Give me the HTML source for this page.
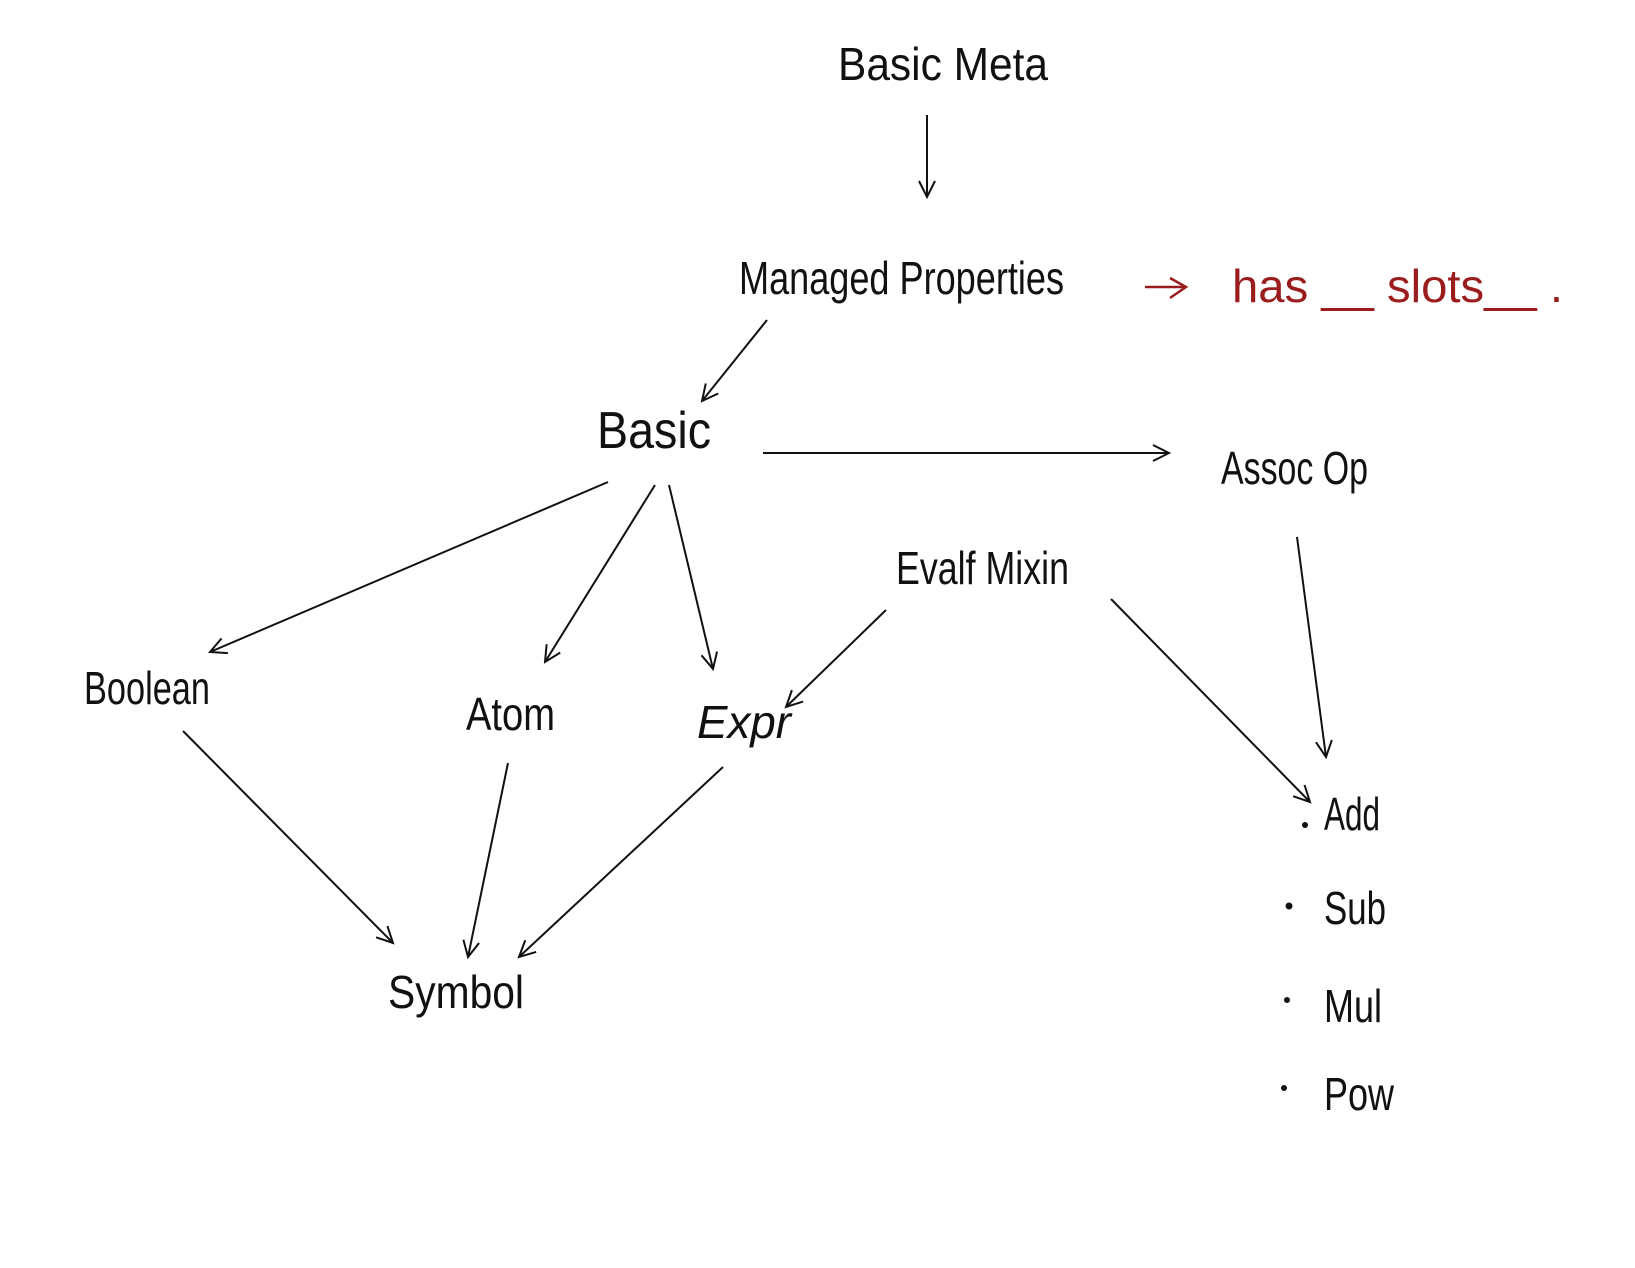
<!DOCTYPE html>
<html><head><meta charset="utf-8"><style>
html,body{margin:0;padding:0;background:#fff;}
svg{display:block;}
text{font-family:"Liberation Sans",sans-serif;fill:#111;}
</style></head><body>
<svg width="1635" height="1268" viewBox="0 0 1635 1268" xmlns="http://www.w3.org/2000/svg">
<defs>
<marker id="a" viewBox="0 0 20 20" refX="18" refY="10" markerWidth="20" markerHeight="20" markerUnits="userSpaceOnUse" orient="auto">
<path d="M2,2 L18,10 L2,18" fill="none" stroke="#111" stroke-width="2"/>
</marker>
</defs>
<g font-size="46" textLength="0">
<text x="838" y="80" textLength="210" lengthAdjust="spacingAndGlyphs">Basic Meta</text>
<text x="739" y="294" textLength="325" lengthAdjust="spacingAndGlyphs">Managed Properties</text>
<text x="597" y="448" font-size="52" textLength="114" lengthAdjust="spacingAndGlyphs">Basic</text>
<text x="1221" y="484" textLength="147" lengthAdjust="spacingAndGlyphs">Assoc Op</text>
<text x="896" y="584" textLength="173" lengthAdjust="spacingAndGlyphs">Evalf Mixin</text>
<text x="84" y="704" textLength="126" lengthAdjust="spacingAndGlyphs">Boolean</text>
<text x="466" y="730" textLength="89" lengthAdjust="spacingAndGlyphs">Atom</text>
<text x="697" y="738" font-style="italic" textLength="94" lengthAdjust="spacingAndGlyphs">Expr</text>
<text x="388" y="1008" textLength="136" lengthAdjust="spacingAndGlyphs">Symbol</text>
<text x="1324" y="830" textLength="56" lengthAdjust="spacingAndGlyphs">Add</text>
<text x="1324" y="924" textLength="62" lengthAdjust="spacingAndGlyphs">Sub</text>
<text x="1324" y="1022" textLength="58" lengthAdjust="spacingAndGlyphs">Mul</text>
<text x="1324" y="1110" textLength="70" lengthAdjust="spacingAndGlyphs">Pow</text>
<text x="1232" y="302" fill="#9b1c1c" style="fill:#9b1c1c" textLength="331" lengthAdjust="spacingAndGlyphs">has  __ slots__ .</text>
</g>
<circle cx="1305" cy="825" r="3" fill="#111"/>
<circle cx="1289" cy="906" r="3.5" fill="#111"/>
<circle cx="1287" cy="1000" r="3" fill="#111"/>
<circle cx="1284" cy="1088" r="3" fill="#111"/>
<g stroke="#111" stroke-width="2" fill="none" marker-end="url(#a)">
<line x1="927" y1="115" x2="927" y2="197"/>
<line x1="767" y1="320" x2="702" y2="401"/>
<line x1="763" y1="453" x2="1169" y2="453"/>
<line x1="608" y1="482" x2="210" y2="652"/>
<line x1="655" y1="485" x2="545" y2="662"/>
<line x1="669" y1="485" x2="713" y2="669"/>
<line x1="886" y1="610" x2="786" y2="707"/>
<line x1="1111" y1="599" x2="1310" y2="802"/>
<line x1="1297" y1="537" x2="1326" y2="757"/>
<line x1="183" y1="731" x2="393" y2="943"/>
<line x1="508" y1="763" x2="468" y2="957"/>
<line x1="723" y1="767" x2="519" y2="957"/>
</g>
<g stroke="#9b1c1c" stroke-width="2.5" fill="none">
<line x1="1145" y1="287" x2="1185" y2="287"/>
<path d="M1170,278 L1186,287 L1170,298"/>
</g>
</svg>
</body></html>
